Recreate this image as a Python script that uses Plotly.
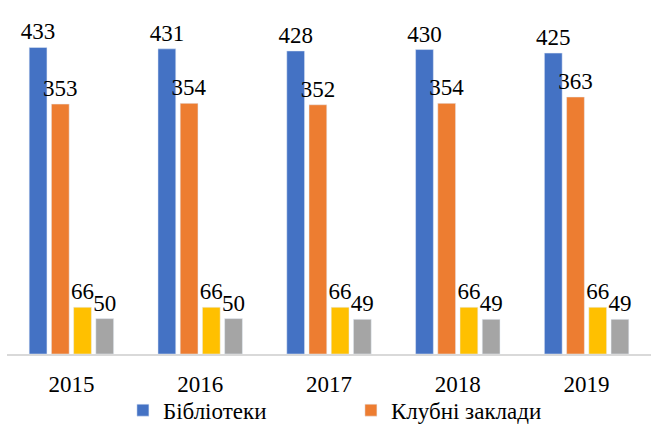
import plotly.graph_objects as go

years = ["2015", "2016", "2017", "2018", "2019"]
libraries = [433, 431, 428, 430, 425]
clubs = [353, 354, 352, 354, 363]
series3 = [66, 66, 66, 66, 66]
series4 = [50, 50, 49, 49, 49]

names = ["Бібліотеки", "Клубні заклади", "Ряд 3", "Ряд 4"]
colors = ["#4472C4", "#ED7D31", "#FFC000", "#A5A5A5"]
show = [True, True, False, False]

FONT = "Times New Roman, Liberation Serif, DejaVu Serif, serif"

fig = go.Figure()
for vals, name, col, sh in zip([libraries, clubs, series3, series4], names, colors, show):
    fig.add_trace(go.Bar(
        x=years, y=vals, name=name, marker_color=col, showlegend=sh,
        text=vals, textposition="outside", cliponaxis=False, constraintext="none",
        textfont=dict(family=FONT, size=23, color="#000000"),
    ))

fig.update_layout(
    width=651, height=427,
    margin=dict(l=7, r=0, t=0, b=73, autoexpand=False),
    paper_bgcolor="white", plot_bgcolor="white",
    barmode="group", bargap=0.31, bargroupgap=0.2,
    font=dict(family=FONT, size=23, color="#000000"),
    xaxis=dict(showline=True, linecolor="#D9D9D9", linewidth=2, ticks="",
               tickfont=dict(family=FONT, size=23, color="#000000"), showgrid=False,
               automargin=False, ticklabelstandoff=8),
    yaxis=dict(range=[0, 500], visible=False, showgrid=False, automargin=False),
    legend=dict(orientation="h", x=0.18, xanchor="left", y=-0.098, yanchor="top",
                font=dict(family=FONT, size=23, color="#000000"),
                entrywidth=183, entrywidthmode="pixels", bgcolor="rgba(0,0,0,0)"),
    showlegend=True,
)

fig.write_html("out.html", config={"displayModeBar": False},
               post_script="document.body.style.margin='0';document.body.style.padding='0';")
